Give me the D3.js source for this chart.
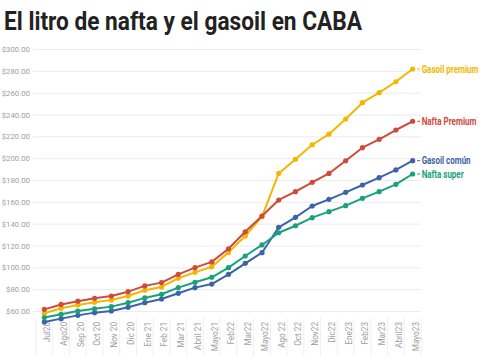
<!DOCTYPE html>
<html><head><meta charset="utf-8">
<script src="https://cdn.jsdelivr.net/npm/d3@7"></script>
<style>
body{margin:0;background:#fff;}
svg{display:block;}
</style></head>
<body><svg id="c" width="491" height="360"></svg>
<script>
const categories = ["Jul20","Ago20","Sep 20","Oct 20","Nov 20","Dic 20","Ene 21","Feb 21","Mar 21","Abril 21","Mayo21","Feb22","Mar22","Mayo22","Ago 22","Oct 22","Nov22","Dic22","Ene23","Feb23","Mar23","Abril23","Mayo23"];
const gasoilPremium = [58,62.5,65.5,68,70,73.7,79,82,90,95.4,100.6,113.7,128.7,146.4,186,199,212.3,222,235.9,250.8,260,270,281.7];
const naftaPremium  = [61.5,66,69,71.6,73.7,77.7,83,86,93.6,99.7,105,117,132.6,147,161.7,169.3,177.9,186,197.6,209.6,217.3,225.8,233.8];
const gasoilComun   = [50,53,56,58.5,60,63.4,67.6,71,76.2,81.4,84.7,93.6,103.7,113.4,136.7,145.8,156.2,162.3,168.7,175.4,182.1,189.2,197.7];
const naftaSuper    = [54,57,60,62,64,67.6,72,75.3,81.4,86.3,90.9,99.7,110.4,120.5,131.7,138.1,145.5,151,156.5,163.2,169.3,176,185.5];
const seriesNames  = ["Gasoil premium","Nafta Premium","Gasoil común","Nafta super"];
const seriesColors = ["#f4b700","#cf4a3a","#3c63a8","#17a27a"];
const labelWidths  = [57,55,49,42];
const yTicks = [60,80,100,120,140,160,180,200,220,240,260,280,300];

const series = [gasoilPremium, naftaPremium, gasoilComun, naftaSuper];
const svg = d3.select("#c");

svg.append("text").attr("x",4).attr("y",30)
  .attr("font-family","Roboto, sans-serif").attr("font-weight","700").attr("font-size",26)
  .attr("fill","#222").attr("textLength",358).attr("lengthAdjust","spacingAndGlyphs")
  .text("El litro de nafta y el gasoil en CABA");

const x = d3.scalePoint().domain(categories).range([36,421]).padding(0.5);
const y = d3.scaleLinear().domain([60,300]).range([311,49]);

// grid
const gy = svg.append("g").attr("transform","translate(33,0)")
  .call(d3.axisLeft(y).tickValues(yTicks).tickSize(-388).tickFormat(d=>"$"+d3.format(".2f")(d)));
gy.select(".domain").remove();
gy.selectAll(".tick line").attr("stroke","#ebebeb");
gy.selectAll(".tick text").attr("x",-3).attr("fill","#9e9e9e")
  .attr("font-family","Roboto, sans-serif").attr("font-size",7.8);

// x axis labels
const step = x.step();
const gx = svg.append("g").attr("transform","translate(0,318)");
gx.selectAll("line.sep").data(categories.concat(["_end"])).join("line")
  .attr("x1",(d,i)=>x(categories[0]) - step/2 + i*step)
  .attr("x2",(d,i)=>x(categories[0]) - step/2 + i*step)
  .attr("y1",0).attr("y2",38).attr("stroke","#f0f0f0");
gx.selectAll("text").data(categories).join("text")
  .attr("transform",d=>`translate(${x(d)+3},4) rotate(-90)`)
  .attr("text-anchor","end").attr("dy","0.35em")
  .attr("fill","#9e9e9e").attr("font-family","Roboto, sans-serif").attr("font-size",8.2)
  .text(d=>d);

// lines
const line = d3.line().x((d,i)=>x(categories[i])).y(d=>y(d));
series.forEach((s,k)=>{
  const g = svg.append("g");
  g.append("path").datum(s).attr("d",line).attr("fill","none")
    .attr("stroke",seriesColors[k]).attr("stroke-width",2).attr("stroke-linejoin","round");
  g.selectAll("circle").data(s).join("circle")
    .attr("cx",(d,i)=>x(categories[i])).attr("cy",d=>y(d)).attr("r",2.6)
    .attr("fill",seriesColors[k]);
  const last = s[s.length-1];
  const lx = x(categories[categories.length-1]);
  g.append("line").attr("x1",lx+4.5).attr("x2",lx+7.5).attr("y1",y(last)).attr("y2",y(last))
    .attr("stroke",seriesColors[k]).attr("stroke-width",1);
  const t = g.append("text").attr("x",0).attr("y",0).attr("dy","0.35em")
    .attr("fill",seriesColors[k]).attr("font-family","Roboto, sans-serif").attr("font-weight","700")
    .attr("font-size",10.5)
    .text(seriesNames[k]);
  const nat = t.node().getComputedTextLength();
  t.attr("transform",`translate(${lx+9},${y(last)}) scale(${labelWidths[k]/nat},1)`);
});
</script></body></html>
